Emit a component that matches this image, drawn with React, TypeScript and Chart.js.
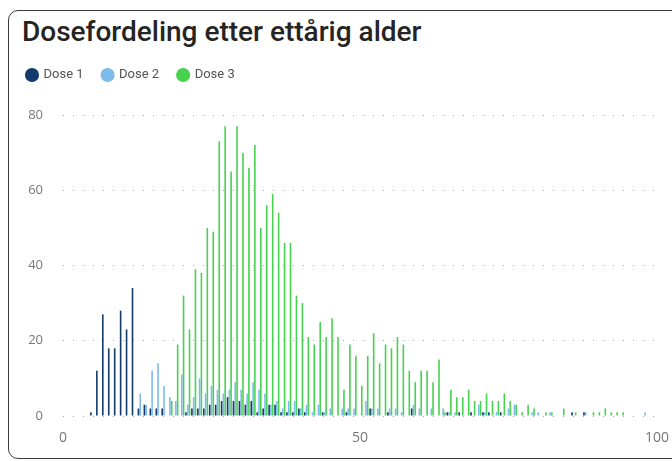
import React, { useEffect, useRef } from 'react';
import { Chart, registerables } from 'chart.js';

Chart.register(...registerables);

const titleText = 'Dosefordeling etter ettårig alder';
const seriesNames = ['Dose 1', 'Dose 2', 'Dose 3'];
const seriesColors = ['#123a6b', '#7cbbea', '#47d24f'];

const ages = [
  0, 1, 2, 3, 4, 5, 6, 7, 8, 9,
  10, 11, 12, 13, 14, 15, 16, 17, 18, 19,
  20, 21, 22, 23, 24, 25, 26, 27, 28, 29,
  30, 31, 32, 33, 34, 35, 36, 37, 38, 39,
  40, 41, 42, 43, 44, 45, 46, 47, 48, 49,
  50, 51, 52, 53, 54, 55, 56, 57, 58, 59,
  60, 61, 62, 63, 64, 65, 66, 67, 68, 69,
  70, 71, 72, 73, 74, 75, 76, 77, 78, 79,
  80, 81, 82, 83, 84, 85, 86, 87, 88, 89,
  90, 91, 92, 93, 94, 95, 96, 97, 98, 99,
  100,
];

const dose1 = [
  0, 0, 0, 0, 0, 1, 12, 27, 18, 18,
  28, 23, 34, 2, 3, 2, 2, 2, 0, 0,
  0, 1, 2, 2, 2, 3, 3, 4, 5, 4,
  4, 3, 4, 1, 2, 3, 3, 1, 1, 1,
  2, 1, 0, 0, 1, 0, 0, 0, 1, 0,
  0, 0, 2, 0, 0, 1, 0, 0, 0, 2,
  0, 0, 0, 0, 0, 1, 0, 1, 0, 1,
  0, 1, 1, 0, 1, 0, 0, 0, 0, 0,
  0, 0, 0, 0, 0, 0, 1, 0, 1, 0,
  0, 0, 0, 0, 0, 0, 0, 0, 0, 0,
  0,
];

const dose2 = [
  0, 0, 0, 0, 0, 0, 0, 0, 0, 0,
  0, 0, 0, 6, 3, 12, 14, 8, 5, 4,
  11, 3, 5, 10, 6, 8, 7, 6, 7, 9,
  7, 6, 9, 7, 6, 3, 4, 2, 4, 4,
  2, 3, 1, 3, 1, 2, 0, 2, 2, 2,
  0, 4, 2, 2, 0, 2, 2, 1, 0, 3,
  2, 0, 2, 0, 2, 1, 1, 0, 0, 0,
  3, 1, 0, 1, 0, 2, 3, 0, 0, 1,
  1, 0, 1, 0, 0, 0, 0, 0, 1, 0,
  0, 0, 0, 0, 0, 0, 0, 0, 1, 0,
  0,
];

const dose3 = [
  0, 0, 0, 0, 0, 0, 0, 0, 0, 0,
  0, 0, 0, 0, 0, 0, 0, 0, 4, 19,
  32, 23, 39, 38, 50, 49, 73, 77, 65, 77,
  70, 66, 72, 50, 56, 59, 54, 46, 46, 32,
  30, 21, 19, 25, 21, 26, 21, 7, 19, 16,
  8, 16, 22, 14, 19, 18, 21, 19, 12, 9,
  12, 12, 9, 15, 1, 7, 5, 5, 7, 4,
  4, 6, 4, 4, 6, 4, 3, 1, 3, 2,
  0, 1, 1, 0, 2, 0, 1, 0, 0, 1,
  1, 2, 1, 1, 1, 0, 0, 0, 0, 0,
  0,
];

const seriesValues = [dose1, dose2, dose3];
const xTickValues = [0, 50, 100];
const yTickValues = [0, 20, 40, 60, 80];

export default function App() {
  const canvasRef = useRef<HTMLCanvasElement | null>(null);

  useEffect(() => {
    if (!canvasRef.current) return;
    const legendHeightPlugin = {
      id: 'legendHeight',
      beforeInit(chart: any) {
        const lg = chart.legend;
        if (!lg) return;
        const origFit = lg.fit;
        lg.fit = function () {
          origFit.call(lg);
          lg.height = 65.5;
        };
      },
    };

    const chart = new Chart(canvasRef.current, {
      type: 'bar',
      data: {
        datasets: seriesNames.map((name, k) => ({
          label: name,
          data: ages.map((a, i) => ({ x: a, y: seriesValues[k][i] })),
          backgroundColor: seriesColors[k],
          borderWidth: 0,
          categoryPercentage: 0.9,
          barPercentage: 0.9,
        })),
      },
      options: {
        animation: false,
        responsive: false,
        maintainAspectRatio: false,
        events: [],
        layout: { padding: { left: 0, right: 15, top: 39.5, bottom: 0 } },
        plugins: {
          title: { display: false },
          tooltip: { enabled: false },
          legend: {
            display: true,
            position: 'top',
            align: 'start',
            labels: {
              usePointStyle: true,
              pointStyle: 'circle',
              boxWidth: 10,
              boxHeight: 10,
              padding: 19,
              color: '#555351',
              font: { family: 'Roboto', size: 13 },
            },
          },
        },
        scales: {
          x: {
            type: 'linear',
            min: 0,
            max: 100,
            offset: false,
            afterBuildTicks(scale: any) {
              scale.ticks = xTickValues.map((v) => ({ value: v }));
            },
            afterFit(scale: any) {
              scale.height = 43;
              scale.paddingLeft = 0;
              scale.paddingRight = 0;
            },
            grid: { display: false, offset: false, drawTicks: false },
            border: { display: false },
            ticks: {
              padding: 14,
              color: '#777777',
              font: { family: "'Open Sans', 'Noto Sans', sans-serif", size: 14 },
              maxRotation: 0,
              autoSkip: false,
            },
          },
          y: {
            type: 'linear',
            min: 0,
            max: 80,
            afterBuildTicks(scale: any) {
              scale.ticks = yTickValues.map((v) => ({ value: v }));
            },
            afterFit(scale: any) {
              scale.width = 55;
            },
            grid: { color: '#ababab', drawTicks: false, lineWidth: 1 },
            border: { display: false, dash: [1, 9] },
            ticks: {
              padding: 20,
              color: '#777777',
              font: { family: "'Open Sans', 'Noto Sans', sans-serif", size: 13 },
            },
          },
        },
      },
      plugins: [legendHeightPlugin],
    } as any);

    return () => chart.destroy();
  }, []);

  return (
    <div
      style={{
        position: 'fixed',
        left: 8,
        top: 8,
        width: 664,
        height: 453,
        overflow: 'hidden',
        background: '#ffffff',
      }}
    >
      <div
        style={{
          position: 'absolute',
          left: 0,
          top: 2,
          width: 720,
          height: 449,
          border: '1px solid #3a3a3a',
          borderRadius: 10,
          boxSizing: 'border-box',
        }}
      />
      <div
        style={{
          position: 'absolute',
          left: 14,
          top: 8,
          fontFamily: 'Roboto, sans-serif',
          fontSize: 28,
          fontWeight: 500,
          lineHeight: '32px',
          color: '#252423',
          whiteSpace: 'nowrap',
        }}
      >
        {titleText}
      </div>
      <canvas
        ref={canvasRef}
        width={664}
        height={449}
        style={{ position: 'absolute', left: 0, top: 2, width: 664, height: 449 }}
      />
    </div>
  );
}
